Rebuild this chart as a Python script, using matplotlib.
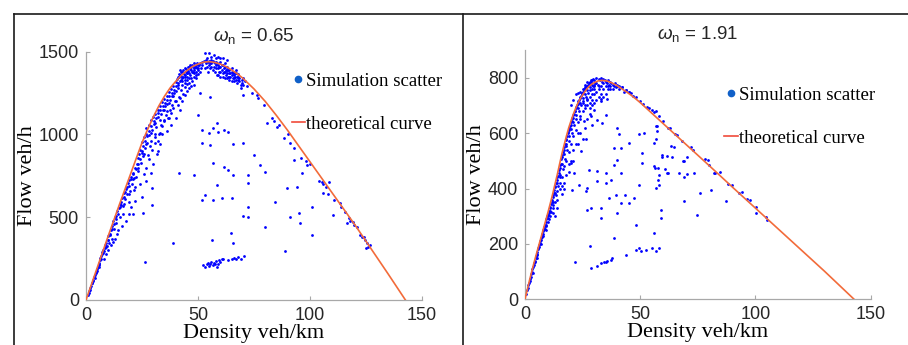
import matplotlib
matplotlib.use("Agg")
import matplotlib.pyplot as plt
from matplotlib.lines import Line2D

# ---------------- data ----------------
left_title = r"$\omega_{\rm n}$ = 0.65"
right_title = r"$\omega_{\rm n}$ = 1.91"
xlabel = "Density veh/km"
ylabel = "Flow veh/h"
legend_labels = ["Simulation scatter", "theoretical curve"]

left_xticks = [0, 50, 100, 150]
left_yticks = [0, 500, 1000, 1500]
right_xticks = [0, 50, 100, 150]
right_yticks = [0, 200, 400, 600, 800]

left_curve_k = [0, 5, 10, 15, 20, 22.5, 25, 27.5, 30, 32.5, 35, 37.5, 40, 42.5, 45, 47.5,
                50, 52.5, 55, 57.5, 60, 62.5, 65, 67.5, 70, 75, 80, 85, 90, 95, 100, 105,
                110, 115, 120, 125, 130, 135, 142.6]
left_curve_q = [0, 195, 390, 580, 765, 858, 950, 1030, 1105, 1172, 1230, 1280, 1320, 1357,
                1385, 1410, 1425, 1437, 1440, 1435, 1425, 1410, 1390, 1367, 1340, 1275,
                1200, 1115, 1025, 930, 835, 740, 645, 550, 455, 355, 255, 155, 0]

right_curve_k = [0, 1, 2, 3, 4, 5, 6, 7, 8, 9, 10, 11, 12, 13, 14, 15, 16, 17, 18, 19, 20,
                 21, 22, 23, 24, 25, 26, 27, 28, 29, 30, 31, 32, 33, 34, 35, 36, 38, 40, 42,
                 44, 46, 48, 50, 60, 70, 80, 90, 100, 110, 120, 130, 142.8]
right_curve_q = [0, 35, 70, 103, 135, 165, 195, 225, 255, 285, 315, 347, 380, 415, 450, 488,
                 525, 558, 590, 620, 645, 669, 690, 709, 725, 738, 750, 761, 770, 777, 782,
                 786, 789, 790, 790, 789, 787, 780, 771, 760, 749, 737, 724, 710, 634, 558,
                 482, 405, 329, 253, 177, 101, 0]

left_scatter = [
    (0.8, 30), (1.2, 45), (1.5, 55), (2, 75), (2.3, 85), (2.6, 100), (3, 115), (3.3, 120),
    (3.6, 140), (4, 150), (4.3, 165), (4.6, 170), (5, 185), (5.3, 200), (5.6, 210), (6, 225),
    (6.2, 240), (6.4, 255), (6.7, 265), (7, 280), (7.3, 290), (7.6, 300), (8, 295), (8.3, 315),
    (8.6, 330), (9, 345), (9.3, 325), (9.6, 365), (10, 385), (10.2, 345), (10.6, 400), (11, 420),
    (11.4, 370), (11.8, 450), (12.2, 475), (12.5, 430), (12.8, 500), (13.2, 505), (13.6, 465),
    (14, 540), (14.4, 420), (14.8, 555), (15.2, 580), (15.6, 595), (16, 615), (16.3, 565),
    (16.6, 520), (17, 645), (17.4, 610), (17.8, 670), (18.2, 640), (18.6, 705), (19, 595),
    (19.4, 725), (19.8, 660), (20.2, 745), (20.6, 700), (21, 770), (21.4, 665), (21.8, 795),
    (22.2, 745), (22.6, 820), (23, 860), (23.4, 780), (23.8, 880), (24.2, 905), (24.6, 830),
    (25, 955), (25.4, 870), (25.8, 985), (26.2, 920), (26.6, 1005), (27, 1040), (27.3, 950),
    (27.6, 875), (28, 1055), (28.3, 995), (28.6, 930), (29, 1085), (29.3, 1030), (29.6, 905),
    (30, 1105), (30.3, 1065), (30.6, 985), (31, 1125), (31.3, 1045), (31.6, 885), (32, 1150),
    (32.3, 1105), (32.6, 1005), (33, 1170), (33.3, 1125), (33.6, 1060), (34, 1195), (34.3, 1150),
    (34.6, 1090), (35, 1215), (35.3, 1170), (35.6, 1120), (36, 1235), (36.3, 1185), (36.6, 1100),
    (37, 1255), (37.3, 1210), (37.6, 1150), (38, 1275), (38.3, 1235), (38.6, 1180), (39, 1295),
    (39.3, 1250), (39.6, 1205), (40, 1315), (40.3, 1265), (40.6, 1335), (41, 1300), (41.3, 1225),
    (41.6, 1345), (42, 1320), (42.3, 1270), (42.6, 1355), (43, 1300), (43.3, 1245), (43.6, 1365),
    (44, 1330), (44.3, 1285), (44.6, 1375), (45, 1350), (45.3, 1305), (45.6, 1385), (46, 1340),
    (46.3, 1395), (46.6, 1360), (47, 1405), (47.3, 1320), (47.6, 1375), (48, 1390), (48.3, 1350),
    (48.6, 1410), (49, 1380), (49.3, 1340), (49.6, 1400), (50, 1365), (50.4, 1420),
    (31, 1000), (32, 960), (33, 1010), (34, 1050), (35, 1080), (36, 1140), (37, 1100), (38, 1130),
    (39, 1160), (40, 1200), (41, 1180), (42, 1220), (43, 1200), (44, 1240), (45, 1260), (46, 1280),
    (47, 1290), (48, 1300), (34, 1000), (36, 1020), (38, 1060), (40, 1100), (42, 1150), (44, 1310),
    (46, 1310), (43, 1340), (45, 1370), (47, 1340), (48, 1370), (49, 1360), (50, 1390), (44, 1360),
    (42, 1360), (41, 1350), (43, 1380), (45, 1390), (47, 1390), (49, 1420), (48, 1430),
    (20, 560), (21, 520), (22, 600), (18, 480), (16, 450), (14, 400), (12, 350), (10, 300),
    (8, 250), (6, 200), (15, 500), (24, 700), (26, 760), (27, 800), (28, 850), (29, 770),
    (25, 620), (22, 680), (26, 880), (30, 820), (32, 900), (31, 950), (33, 940), (29, 960),
    (27, 720), (19, 520), (13, 370), (11, 330), (9, 280),
    (1.8, 60), (2.8, 100), (3.8, 135), (4.8, 175), (5.8, 215), (6.8, 250), (7.8, 285), (8.8, 320),
    (9.8, 360), (10.8, 395), (11.6, 430), (12.4, 460), (13.4, 490), (14.2, 520), (15, 560),
    (15.8, 575), (16.8, 620), (17.6, 650), (18.4, 680), (19.2, 690), (20, 730), (20.8, 760),
    (21.6, 740), (22.4, 790), (23.2, 820), (24, 850), (24.8, 900), (25.6, 930), (26.4, 960),
    (27.2, 990), (28.2, 1020), (29.2, 1050), (30.2, 1080), (31.2, 1100), (32.2, 1130),
    (33.2, 1150), (34.2, 1170), (35.2, 1190), (36.2, 1210), (37.2, 1230), (38.2, 1250),
    (39.2, 1270), (40.2, 1290), (41.2, 1310), (42.2, 1330), (43.2, 1350), (44.2, 1350),
    (45.2, 1370), (46.2, 1370), (47.2, 1380), (48.2, 1400), (49.2, 1410), (50.2, 1400), (42, 1390),
    (44, 1400), (46, 1410), (48, 1410), (50, 1420), (51, 1380), (45, 1330), (43, 1320), (41, 1280),
    (39, 1230), (37, 1190), (35, 1150), (33, 1090), (31, 1070), (29, 1010), (27, 940), (25, 890),
    (23, 800), (21, 730), (19, 640), (17, 580), (45.5, 1410), (47.5, 1420), (49.5, 1430),
    (46.5, 1420), (44.5, 1395), (43.5, 1390), (42.5, 1375), (41.5, 1365),
    (51, 1430), (51.5, 1400), (52, 1420), (52.5, 1445), (53, 1400), (53, 1490), (53.5, 1430),
    (54, 1410), (54.5, 1380), (55, 1445), (55, 1420), (55.5, 1400), (56, 1470), (56, 1430),
    (56.5, 1390), (57, 1410), (57.5, 1380), (58, 1440), (58, 1420), (58.5, 1360), (59, 1400),
    (59, 1470), (59.5, 1380), (60, 1410), (60, 1350), (60.5, 1390), (61, 1460), (61, 1370),
    (61.5, 1400), (62, 1380), (62, 1340), (62.5, 1360), (63, 1390), (63, 1410), (63.5, 1350),
    (64, 1370), (64, 1330), (64.5, 1350), (65, 1380), (65, 1360), (65.5, 1340), (66, 1360),
    (66, 1320), (66.5, 1350), (67, 1370), (67, 1330), (67.5, 1310), (68, 1350), (68, 1365),
    (68.5, 1320), (69, 1300), (69, 1280), (70, 1340), (70, 1240), (71, 1320), (57, 1480),
    (55, 1490), (60, 1460), (63, 1450), (54, 1460), (58, 1400), (59, 1420), (61, 1420),
    (62, 1410), (64, 1390), (56, 1410), (57, 1440), (60, 1380), (66, 1380), (63, 1370), (65, 1320),
    (52, 1440), (53.5, 1450), (54.5, 1440), (55.5, 1430), (56.5, 1445), (57.5, 1430), (58.5, 1430),
    (59.5, 1410), (60.5, 1420), (61.5, 1380), (62.5, 1390), (63.5, 1390), (64.5, 1370),
    (65.5, 1370), (66.5, 1370), (67.5, 1350), (68.5, 1340), (69.5, 1330), (62, 1430), (65, 1400),
    (67, 1390), (60, 1440), (58, 1460), (56, 1450), (59, 1360), (61, 1350), (63, 1340), (66, 1340),
    (64, 1350), (68, 1330), (69.5, 1310),
    (51, 1248), (55.4, 1228), (50.2, 1117), (58.4, 1067), (56.9, 1037), (59.1, 1017), (54.7, 1006),
    (61.4, 1027), (63.6, 1017), (51.7, 1027), (55.4, 936), (51.7, 946), (65.8, 942), (70.3, 946),
    (74.8, 876), (56.9, 825), (61.4, 805), (63.6, 785), (65.8, 755), (72.5, 755), (77.8, 815),
    (80, 775), (48, 755), (41.3, 765), (58.4, 694), (56.9, 604), (51.7, 604), (60.8, 614),
    (65, 614), (53.2, 634), (72.5, 709), (72.5, 564), (70.3, 507), (72.1, 499), (64.7, 403),
    (65.8, 342), (56.2, 362), (39, 346), (29.3, 674), (29.3, 574), (25.6, 523), (26.4, 231),
    (52.4, 210), (53, 200), (54, 215), (54.5, 225), (55, 205), (55.5, 220), (56, 230), (56.5, 210),
    (57, 225), (57.5, 215), (58, 235), (58.5, 200), (59, 220), (59.5, 240), (60, 230), (60.5, 245),
    (61, 250), (63.5, 240), (65, 250), (66, 255), (67, 245), (68, 260), (69, 250), (70.5, 265),
    (80, 443), (84.5, 594), (88.9, 298), (89.6, 674), (92.7, 845), (91.2, 503), (94.9, 523),
    (95.6, 463), (94.1, 684), (100.8, 564), (100.8, 393), (96.4, 765), (98.6, 815), (110.2, 513),
    (110.5, 604), (116.5, 463), (119.5, 453), (108.3, 715), (105.3, 715), (106, 644), (85.2, 1047),
    (80.7, 1067), (88.2, 976), (83, 1100), (84, 1080),
    (70, 1300), (72, 1290), (74, 1250), (76.3, 1238), (77, 1220), (79.3, 1178), (86, 1060),
    (90, 1000), (91, 950), (93, 920), (96, 860), (98, 840), (100, 820), (104, 720), (106, 700),
    (107, 680), (108, 640), (113.5, 584), (114, 560), (115.7, 533), (117.2, 493), (118, 480),
    (119.4, 473), (120.9, 443), (122.4, 393), (123, 380), (123.9, 382), (124.5, 360), (125.4, 342),
    (126.1, 322), (125, 312), (127, 330),
]

right_scatter = [
    (0.5, 20), (1, 35), (1.5, 50), (2, 65), (2.5, 80), (3, 100), (3.3, 95), (3.6, 115), (4, 130),
    (4.3, 140), (4.6, 150), (5, 160), (5.3, 170), (5.6, 185), (6, 190), (6.3, 205), (6.6, 210),
    (7, 220), (7.3, 235), (7.6, 230), (8, 250), (8.3, 260), (8.6, 255), (9, 280), (9.3, 270),
    (9.6, 300), (10, 305), (10.3, 290), (10.6, 320), (11, 335), (11.3, 315), (11.6, 350), (12, 370),
    (12.3, 340), (12.6, 385), (13, 405), (13.3, 375), (13.6, 420), (14, 440), (14.3, 410),
    (14.6, 455), (15, 475), (15.3, 440), (15.6, 490), (16, 515), (16.3, 470), (16.6, 530),
    (17, 550), (17.3, 505), (17.6, 560), (18, 580), (18.3, 540), (18.6, 600), (19, 610),
    (19.3, 570), (19.6, 625), (20, 640), (20.3, 600), (20.6, 655), (21, 665), (21.3, 630),
    (21.6, 680), (22, 690), (22.3, 650), (22.6, 700), (23, 710), (23.3, 680), (23.6, 720),
    (24, 730), (24.3, 700), (24.6, 740), (25, 745), (25.3, 715), (25.6, 755), (26, 760),
    (26.3, 730), (26.6, 765), (27, 770), (27.3, 745), (27.6, 775), (28, 780), (28.3, 755),
    (28.6, 785), (29, 790), (29.3, 770), (29.6, 795), (30, 790), (30.5, 780), (31, 800),
    (31.5, 775), (32, 795), (32.5, 790), (33, 800), (33.5, 785), (34, 795), (34.5, 790),
    (35, 785), (35.5, 780), (36, 790), (36.5, 775), (37, 785), (37.5, 780), (38, 775),
    (38.5, 770), (39, 780), (39.5, 765), (40, 770), (41, 760), (42, 765), (43, 750), (44, 755),
    (45, 750), (46, 745),
    (1.2, 40), (1.8, 60), (2.2, 75), (2.8, 90), (3.2, 110), (3.8, 125), (4.2, 135), (4.8, 155),
    (5.2, 165), (5.8, 180), (6.2, 195), (6.8, 215), (7.2, 225), (7.8, 245), (8.2, 255), (8.8, 270),
    (9.2, 290), (9.8, 305), (10.2, 310), (10.8, 330), (11.2, 345), (11.8, 360), (12.2, 375),
    (12.8, 395), (13.2, 410), (13.8, 430), (14.2, 445), (14.8, 465), (15.2, 485), (15.8, 505),
    (16.2, 520), (16.8, 540), (17.2, 560), (17.8, 575), (18.2, 590), (18.8, 605), (19.2, 620),
    (19.8, 630), (20.2, 645), (20.8, 655), (21.2, 670), (21.8, 680), (22.2, 695), (22.8, 705),
    (23.2, 715), (23.8, 725), (24.2, 735), (24.8, 745), (25.2, 750), (25.8, 760), (26.2, 765),
    (26.8, 770), (27.2, 775), (27.8, 780), (28.2, 785), (28.8, 790),
    (8, 235), (9, 265), (10, 295), (11, 320), (12, 350), (13, 385), (14, 420), (15, 450),
    (16, 490), (17, 525), (18, 555), (19, 590), (20, 615), (21, 640), (22, 665), (23, 690),
    (24, 710), (25, 725), (26, 740), (27, 755), (28, 765), (29, 775), (30, 775),
    (12, 310), (14, 360), (16, 410), (18, 450), (20, 500), (22, 560), (24, 600), (16, 380),
    (14, 330), (13, 300), (17, 400), (19, 460), (21, 500), (23, 560), (25, 580), (26, 620),
    (27, 650), (28, 670), (29, 700), (30, 710), (31, 720), (32, 730), (33, 715), (34, 730),
    (35, 740), (36, 760), (37, 770), (38, 760), (31, 780), (32, 770), (33, 770), (34, 780),
    (35, 770), (36, 770), (37, 760), (29, 760), (30, 770),
    (10, 280), (12, 330), (14, 390), (15, 420), (16, 440), (17, 480), (18, 500), (19, 530),
    (20, 560), (21, 590), (22, 610), (23, 640), (24, 660), (25, 680), (26, 700), (27, 720),
    (28, 730), (29, 740), (22, 740), (23, 745), (24, 750), (25, 760), (26, 775), (27, 785),
    (21, 720), (20, 700), (11, 300), (13, 350), (9, 250), (7, 200), (5, 150), (25, 710), (26, 690),
    (27, 700), (28, 710), (29, 720), (30, 740), (31, 750), (32, 760), (33, 740), (34, 760),
    (30, 760), (28, 690), (24, 650), (23, 600), (21, 540), (19, 490), (17, 420), (15, 400),
    (27, 722), (29.9, 685), (32.8, 722), (35.7, 722), (28.5, 661), (31.4, 649), (33.6, 637),
    (35, 667), (29.2, 631), (25.6, 643), (26.3, 577), (24.2, 535), (19.8, 492), (27.8, 468),
    (31.4, 462), (35, 456), (40.1, 619), (40.8, 595), (38.6, 486), (40.1, 504), (41.5, 456),
    (45.1, 565), (49.5, 595), (51.6, 601), (56, 565), (56.7, 625), (57.4, 607), (59.6, 522),
    (61.8, 516), (63.2, 553), (66.8, 456), (69, 498), (73.3, 456), (75.8, 384), (69, 354),
    (74.8, 305), (80.6, 396), (87.1, 354), (50.9, 492), (50.9, 528), (56, 480), (57.8, 474),
    (58.3, 450), (61.8, 456), (49.5, 414), (56.7, 402), (58.3, 414), (58.9, 323), (58.9, 293),
    (56, 239), (43.3, 378), (47.3, 366), (48.2, 269), (44, 160), (38.6, 221), (37.9, 148),
    (37.2, 142), (32.8, 130), (31.4, 121), (28.5, 112), (35, 136), (35.7, 139), (34.3, 134),
    (48, 179), (50.2, 176), (52.4, 179), (55.3, 185), (56.7, 176), (58.2, 185), (49.5, 185),
    (28.2, 191), (21.6, 136), (20.5, 396), (27, 323), (28.5, 329), (32.8, 329), (31.4, 426),
    (35, 420), (37.2, 432), (36.5, 366), (39.4, 378), (41.5, 347), (45.1, 347), (32.8, 293),
    (40.1, 311), (26.3, 390), (27, 402), (21.3, 456), (23.4, 414), (38.6, 547), (41.5, 547),
    (57.3, 627), (57, 579), (59.3, 515), (63.6, 515), (68.7, 500), (64.5, 551), (70.4, 515),
    (68.9, 440), (70.4, 452), (60.8, 470), (56.4, 475), (62.2, 457), (57.9, 431), (82.4, 455),
    (40, 775), (41, 770), (42, 765), (44, 755), (45, 750), (47, 735), (48, 730), (50, 715),
    (51, 705), (53, 695), (54, 690), (55, 685), (56, 675), (57, 680), (58, 660), (60, 645),
    (62, 620), (63, 618), (65, 595), (66, 593), (68, 570), (72, 550), (73, 540), (78, 505),
    (79.5, 503), (80, 485), (82, 455), (84.6, 460), (88, 415), (90, 413), (93, 385), (94, 386),
    (96.2, 362), (97.6, 358), (100.2, 334), (100.2, 310), (104.5, 296), (105, 287),
]

# ---------------- style ----------------
plt.rcParams["mathtext.fontset"] = "custom"
plt.rcParams["mathtext.rm"] = "Liberation Sans"
plt.rcParams["mathtext.it"] = "Liberation Sans:italic"

W, H = 908, 345
fig = plt.figure(figsize=(W / 100, H / 100), dpi=100)

serif = "Liberation Serif"
axis_gray = "#a8a8a8"
text_dark = "#262626"
curve_color = "#f26b3a"
dot_color = "#0000ff"


def px_axes(x0, x1, y_top, y_bot):
    return [x0 / W, 1 - y_bot / H, (x1 - x0) / W, (y_bot - y_top) / H]


def setup(ax, scatter, ck, cq, ylim, xticks, yticks, title, leg_anchor):
    ks = [p[0] for p in scatter]
    qs = [p[1] for p in scatter]
    ax.scatter(ks, qs, s=4.0, color=dot_color, linewidths=0, zorder=2)
    ax.plot(ck, cq, color=curve_color, lw=1.2, zorder=3)
    ax.set_xlim(0, 150)
    ax.set_ylim(0, ylim)
    ax.set_xticks(xticks)
    ax.set_yticks(yticks)
    for s in ("top", "right"):
        ax.spines[s].set_visible(False)
    for s in ("left", "bottom"):
        ax.spines[s].set_color(axis_gray)
        ax.spines[s].set_linewidth(0.9)
    ax.tick_params(direction="in", length=3, width=0.8, color=axis_gray,
                   labelcolor=text_dark)
    ax.tick_params(axis="x", pad=5)
    ax.tick_params(axis="y", pad=5)
    for lab in ax.get_xticklabels() + ax.get_yticklabels():
        lab.set_fontfamily("Liberation Sans")
        lab.set_fontsize(13)
    ax.set_xlabel(xlabel, family=serif, fontsize=16, color="black", labelpad=0)
    ax.set_ylabel(ylabel, family=serif, fontsize=16, color="black", labelpad=1)
    ax.set_title(title, family="Liberation Sans", fontsize=13.5, color=text_dark, pad=8)
    handles = [
        Line2D([], [], ls="none", marker="o", markersize=4.5, color="#1060c8"),
        Line2D([], [], color="#f04a3a", lw=1.2),
    ]
    ax.legend(handles, legend_labels, loc="upper left", bbox_to_anchor=leg_anchor,
              frameon=False, borderpad=0, borderaxespad=0, handlelength=0.7,
              handletextpad=0.05, labelspacing=1.38,
              prop=dict(family=serif, size=13.5))


ax1 = fig.add_axes(px_axes(86, 422, 51.7, 300))
setup(ax1, left_scatter, left_curve_k, left_curve_q, 1500, left_xticks, left_yticks,
      left_title, (0.612, 0.915))

ax2 = fig.add_axes(px_axes(525, 870.7, 50, 299.3))
setup(ax2, right_scatter, right_curve_k, right_curve_q, 900, right_xticks, right_yticks,
      right_title, (0.577, 0.852))

# frame lines of the composite figure
lc = "#1a1a1a"
fig.add_artist(Line2D([14 / W, 1], [1 - 13.5 / H, 1 - 13.5 / H], color=lc, lw=1.2))
fig.add_artist(Line2D([14 / W, 14 / W], [0, 1 - 13.5 / H], color=lc, lw=1.2))
fig.add_artist(Line2D([462.5 / W, 462.5 / W], [0, 1 - 13.5 / H], color=lc, lw=1.2))

fig.savefig("out.png", dpi=100)
